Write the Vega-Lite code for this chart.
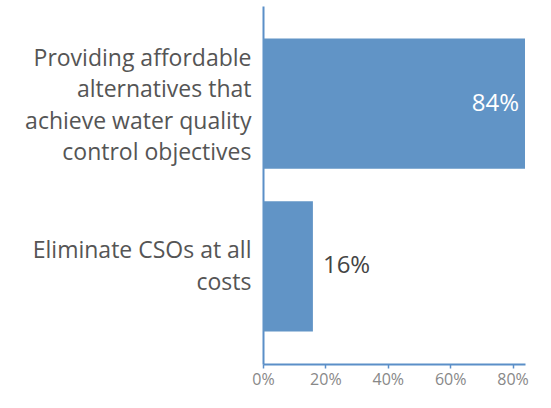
{
  "$schema": "https://vega.github.io/schema/vega-lite/v6.json",
  "width": 262,
  "height": 358,
  "autosize": {"type": "none"},
  "padding": {"left": 263, "top": 6, "right": 26, "bottom": 44},
  "background": "white",
  "config": {"view": {"stroke": null}, "font": "Open Sans"},
  "data": {
    "values": [
      {"option": "Providing affordable|alternatives that|achieve water quality|control objectives", "pct": 0.84},
      {"option": "Eliminate CSOs at all|costs", "pct": 0.16}
    ]
  },
  "encoding": {
    "y": {
      "field": "option",
      "type": "nominal",
      "sort": ["Providing affordable|alternatives that|achieve water quality|control objectives", "Eliminate CSOs at all|costs"],
      "scale": {"paddingInner": 0.2, "paddingOuter": 0.2},
      "axis": {
        "title": null,
        "labelExpr": "split(datum.label, '|')",
        "labelFontSize": 23,
        "labelLineHeight": 31.5,
        "labelColor": "#555555",
        "labelPadding": 12,
        "labelLimit": 300,
        "labelOffset": {"condition": {"test": "indexof(datum.value, 'Providing') >= 0", "value": -45}, "value": -15},
        "ticks": false,
        "domainColor": "#5b8fc8",
        "domainWidth": 2
      }
    },
    "x": {
      "field": "pct",
      "type": "quantitative",
      "scale": {"domain": [0, 0.84], "nice": false},
      "axis": {
        "title": null,
        "format": ".0%",
        "values": [0, 0.2, 0.4, 0.6, 0.8],
        "grid": false,
        "labelFontSize": 16,
        "labelColor": "#888888",
        "labelPadding": 3,
        "tickColor": "#5b8fc8",
        "tickSize": 4,
        "tickWidth": 1.5,
        "domainColor": "#5b8fc8",
        "domainWidth": 2,
        "labelFlush": false
      }
    }
  },
  "layer": [
    {"mark": {"type": "bar", "color": "#6194c6"}},
    {
      "transform": [{"filter": "datum.pct > 0.5"}],
      "mark": {"type": "text", "align": "right", "dx": -6, "fontSize": 24, "color": "white"},
      "encoding": {"text": {"field": "pct", "type": "quantitative", "format": ".0%"}}
    },
    {
      "transform": [{"filter": "datum.pct <= 0.5"}],
      "mark": {"type": "text", "align": "left", "dx": 10, "fontSize": 24, "color": "#444444"},
      "encoding": {"text": {"field": "pct", "type": "quantitative", "format": ".0%"}}
    }
  ]
}
